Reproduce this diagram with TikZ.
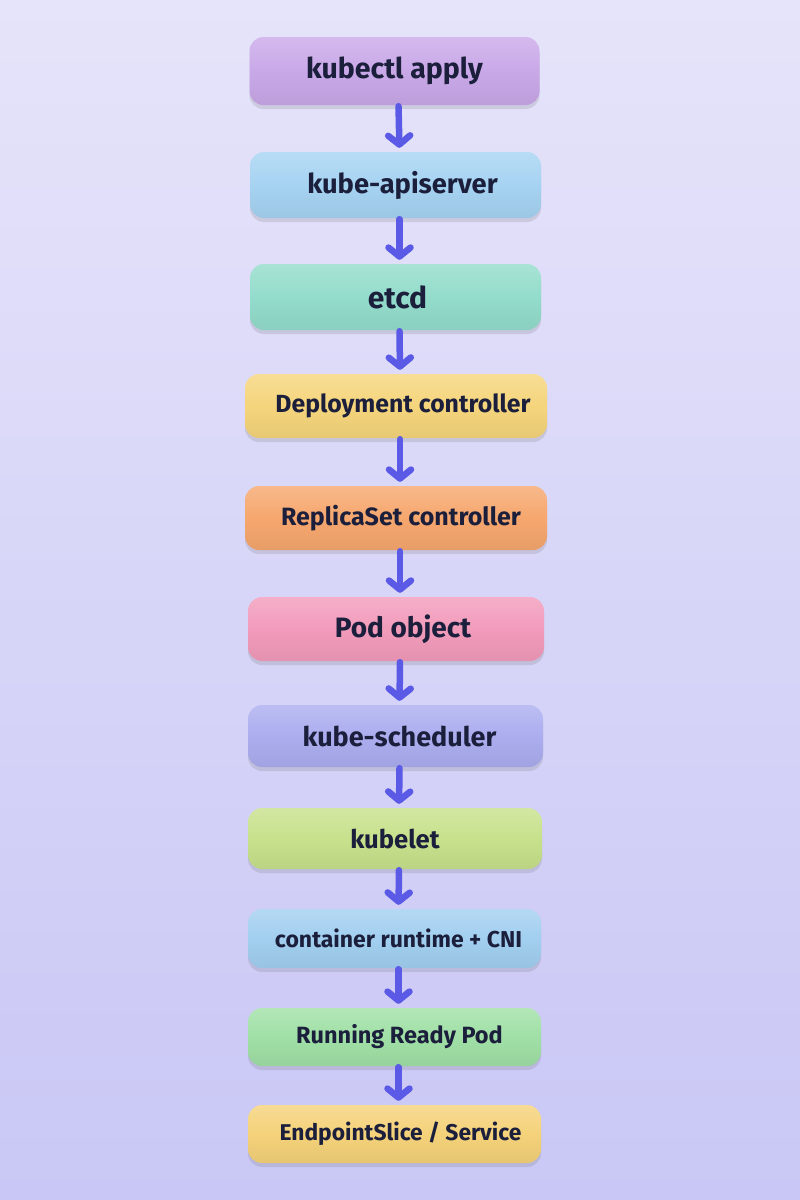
\documentclass[tikz,border=0pt]{standalone}
\usepackage{fontspec}
\setmainfont{Fira Sans}
\usetikzlibrary{arrows.meta,shadows}
\definecolor{bgtop}{HTML}{E6E4FA}
\definecolor{bgbot}{HTML}{C9C7F5}
\definecolor{arr}{HTML}{5A5AE6}
\definecolor{txt}{HTML}{1B1F3B}
\definecolor{c1}{HTML}{C9A8E8}
\definecolor{c2}{HTML}{A6D3F2}
\definecolor{c3}{HTML}{93DCCB}
\definecolor{c4}{HTML}{F5D57C}
\definecolor{c5}{HTML}{F6A76E}
\definecolor{c6}{HTML}{F29BBB}
\definecolor{c7}{HTML}{ABADEF}
\definecolor{c8}{HTML}{C7E18C}
\definecolor{c9}{HTML}{A2CFF0}
\definecolor{c10}{HTML}{A0E0A6}
\definecolor{c11}{HTML}{F5D27A}
\tikzset{
  stepbox/.style={rounded corners=14pt, minimum height=#1, inner sep=0pt,
    text=txt,
    drop shadow={shadow xshift=0pt, shadow yshift=-4pt, opacity=0.18, fill=black!60}},
  clay/.style={top color=#1!80!white, bottom color=#1!94!black, middle color=#1},
  fs/.style={font=\fontsize{#1}{#1}\selectfont\bfseries},
  sh/.style={execute at begin node={\hspace*{#1}}},
  flow/.style={draw=arr, line width=6.5pt, line cap=round,
    -{Straight Barb[length=9pt, width=22pt, line width=6.5pt, round]}, shorten >=4pt, shorten <=1pt}
}
\begin{document}
\begin{tikzpicture}[x=1pt,y=-1pt]
\shade[top color=bgtop, bottom color=bgbot] (0,0) rectangle (800,1200);
\useasboundingbox (0,0) rectangle (800,1200);
\node[stepbox=68pt, clay=c1, minimum width=290pt, fs=28.5] (n1) at (394.5,71) {kubectl apply};
\node[stepbox=66pt, clay=c2, minimum width=291pt, fs=27.3, sh=14pt] (n2) at (395.5,185) {kube-apiserver};
\node[stepbox=66pt, clay=c3, minimum width=291pt, fs=30, sh=4pt] (n3) at (395.5,297) {etcd};
\node[stepbox=64pt, clay=c4, minimum width=302pt, fs=24.8, sh=14pt] (n4) at (396,406) {Deployment controller};
\node[stepbox=64pt, clay=c5, minimum width=302pt, fs=25, sh=10pt] (n5) at (396,518) {ReplicaSet controller};
\node[stepbox=64pt, clay=c6, minimum width=296pt, fs=28, sh=14pt] (n6) at (396,629) {Pod object};
\node[stepbox=62pt, clay=c7, minimum width=295pt, fs=27, sh=8pt] (n7) at (395.5,736) {kube-scheduler};
\node[stepbox=61pt, clay=c8, minimum width=294pt, fs=25.6] (n8) at (395,838.5) {kubelet};
\node[stepbox=59pt, clay=c9, minimum width=293pt, fs=23, sh=8pt] (n9) at (394.5,938.5) {container runtime + CNI};
\node[stepbox=58pt, clay=c10, minimum width=293pt, fs=23.5, sh=10pt] (n10) at (394.5,1037) {Running Ready Pod};
\node[stepbox=58pt, clay=c11, minimum width=293pt, fs=22.8, sh=12pt] (n11) at (394.5,1134) {EndpointSlice / Service};
\foreach \a/\b in {n1/n2,n2/n3,n3/n4,n4/n5,n5/n6,n6/n7,n7/n8,n8/n9,n9/n10,n10/n11}
  \draw[flow] ([xshift=4pt]\a.south) -- ([xshift=4pt]\b.north);
\end{tikzpicture}
\end{document}
